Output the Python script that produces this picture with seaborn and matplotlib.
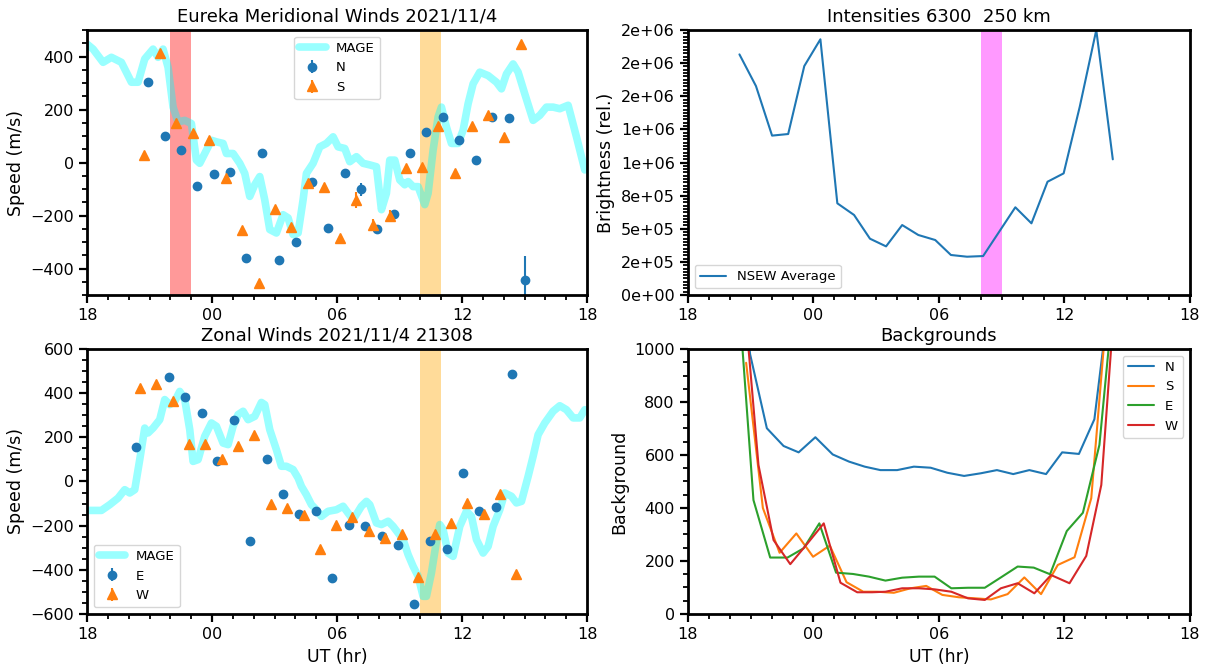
import seaborn as sns
import matplotlib.pyplot as plt
from matplotlib.ticker import MultipleLocator, AutoMinorLocator, FormatStrFormatter

# hours are counted from 00 UT on 2021/11/4 (18 UT the day before = -6)
HOUR_TICKS = [-6, 0, 6, 12, 18]
HOUR_LABELS = ['18', '00', '06', '12', '18']

# MAGE meridional wind (m/s)
mage_mer_t = [-6.0, -5.71, -5.23, -4.83, -4.35, -3.87, -3.55, -3.23, -2.83, -2.59, -2.35, -2.11,
              -1.87, -1.63, -1.31, -0.99, -0.75, -0.59, -0.35, -0.03, 0.21, 0.53, 0.69, 1.01,
              1.33, 1.57, 1.81, 2.05, 2.29, 2.53, 2.77, 3.09, 3.41, 3.65, 3.89, 4.13, 4.37,
              4.53, 4.85, 5.17, 5.49, 5.81, 6.05, 6.37, 6.61, 6.93, 7.25, 7.57, 7.89, 8.13,
              8.37, 8.53, 8.77, 9.01, 9.25, 9.41, 9.65, 9.89, 10.21, 10.37, 10.61, 10.85,
              11.01, 11.25, 11.49, 11.81, 12.05, 12.29, 12.53, 12.85, 13.25, 13.65, 13.89,
              14.13, 14.45, 14.69, 15.01, 15.41, 15.73, 16.05, 16.37, 16.69, 17.09, 17.49, 17.89]
mage_mer_v = [447, 428, 378, 397, 378, 303, 303, 391, 428, 397, 428, 359,
              209, 153, 159, 147, 9, -3, 34, 84, 78, 72, 34, 34,
              -3, -41, -128, -84, -53, -141, -253, -266, -197, -209, -272, -266, -141,
              -41, -3, 59, 72, 97, 59, 53, 3, 22, -3, -9, -16, -178,
              -116, 9, 9, -66, -84, -72, -91, -91, -159, -116, 47, 172,
              209, 134, 72, 72, 122, 222, 297, 341, 328, 303, 278,
              334, 372, 341, 259, 159, 178, 209, 209, 203, 216, 97, -28]

# FPI meridional winds
n_t = [-3.07, -2.27, -1.50, -0.72, 0.08, 0.85, 1.65, 2.42, 3.22, 4.02, 4.80, 5.57,
       6.37, 7.14, 7.94, 8.72, 9.49, 10.29, 11.09, 11.87, 12.66, 13.44, 14.24, 15.02]
n_v = [305, 99, 48, -89, -43, -36, -362, 34, -367, -301, -73, -248,
       -41, -101, -251, -194, 34, 117, 172, 84, 9, 172, 167, -444]
n_err = [8, 8, 8, 8, 8, 8, 10, 8, 10, 10, 8, 10, 8, 25, 10, 10, 8, 8, 8, 8, 8, 8, 8, 90]
s_t = [-3.26, -2.48, -1.71, -0.91, -0.14, 0.66, 1.44, 2.24, 3.01, 3.81, 4.59, 5.38,
       6.16, 6.93, 7.73, 8.53, 9.30, 10.08, 10.86, 11.66, 12.46, 13.23, 14.03, 14.82]
s_v = [28, 413, 149, 112, 84, -59, -253, -456, -174, -244, -78, -91,
       -286, -141, -234, -201, -22, -16, 137, -38, 137, 178, 97, 447]
s_err = [8, 8, 8, 8, 8, 8, 8, 8, 8, 8, 8, 8, 8, 30, 20, 20, 8, 8, 8, 8, 8, 8, 8, 8]

# MAGE zonal wind (m/s)
mage_zon_t = [-6.0, -5.31, -4.91, -4.51, -4.19, -3.95, -3.71, -3.47, -3.23, -3.07, -2.83, -2.51,
              -2.27, -2.03, -1.79, -1.55, -1.31, -1.07, -0.91, -0.67, -0.35, -0.03, 0.21, 0.53,
              0.77, 1.01, 1.25, 1.49, 1.73, 2.05, 2.37, 2.53, 2.77, 3.09, 3.33, 3.57, 3.89,
              4.13, 4.29, 4.53, 4.77, 5.01, 5.25, 5.57, 5.97, 6.29, 6.53, 6.77, 7.17, 7.41,
              7.57, 7.89, 8.13, 8.45, 8.69, 8.93, 9.17, 9.41, 9.65, 9.89, 10.13, 10.29, 10.53,
              10.77, 10.93, 11.09, 11.33, 11.57, 11.89, 12.21, 12.45, 12.69, 13.01, 13.25,
              13.49, 13.81, 14.05, 14.37, 14.61, 14.85, 15.17, 15.41, 15.65, 15.97, 16.37,
              16.69, 17.01, 17.33, 17.65, 17.89]
mage_zon_v = [-131, -131, -105, -75, -37, -52, -37, 99, 242, 220, 242, 280,
              371, 348, 363, 408, 371, 235, 91, 99, 205, 265, 250, 174,
              167, 250, 303, 318, 280, 295, 358, 348, 235, 144, 69, 69, 54,
              16, -22, -60, -105, -128, -158, -135, -128, -112, -143, -173, -112, -90,
              -105, -188, -195, -180, -203, -233, -263, -331, -384, -429, -520, -520, -414,
              -271, -195, -218, -324, -339, -203, -135, -158, -263, -324, -294,
              -203, -128, -52, -67, -97, -90, 23, 114, 212, 265, 318,
              343, 325, 288, 288, 325]

# FPI zonal winds
e_t = [-3.63, -2.08, -1.31, -0.50, 0.24, 1.04, 1.84, 2.64, 3.41, 4.18, 4.99, 5.78,
       6.58, 7.33, 8.16, 8.93, 9.71, 10.48, 11.28, 12.05, 12.83, 13.63, 14.42]
e_v = [155, 473, 383, 308, 91, 280, -268, 102, -57, -146, -135, -437,
       -195, -203, -248, -286, -553, -268, -304, 38, -132, -115, 488]
e_err = [8, 8, 8, 8, 8, 8, 8, 8, 8, 8, 8, 8, 15, 8, 15, 8, 8, 8, 8, 8, 8, 8, 8]
w_t = [-3.47, -2.67, -1.89, -1.10, -0.34, 0.46, 1.26, 2.03, 2.83, 3.60, 4.40, 5.17,
       5.97, 6.74, 7.52, 8.30, 9.10, 9.89, 10.69, 11.47, 12.26, 13.04, 13.84, 14.61]
w_v = [423, 441, 366, 170, 170, 102, 162, 209, -102, -120, -150, -306,
       -198, -161, -226, -256, -238, -432, -238, -189, -97, -147, -55, -417]
w_err = [8, 8, 8, 8, 8, 8, 8, 8, 8, 8, 8, 8, 8, 8, 20, 20, 8, 8, 8, 8, 8, 8, 8, 8]

# 6300 brightness, NSEW average
bright_t = [-3.54, -2.75, -1.98, -1.21, -0.44, 0.33, 1.14, 1.94, 2.70, 3.47, 4.24, 5.01,
            5.82, 6.57, 7.34, 8.11, 8.88, 9.65, 10.42, 11.19, 11.96, 12.73, 13.52, 14.31]
bright_v = [1.816e6, 1.577e6, 1.203e6, 1.215e6, 1.728e6, 1.930e6, 0.692e6, 0.604e6,
            0.425e6, 0.367e6, 0.528e6, 0.453e6, 0.415e6, 0.302e6, 0.289e6, 0.294e6,
            0.478e6, 0.662e6, 0.541e6, 0.855e6, 0.918e6, 1.421e6, 2.0e6, 1.024e6]

# backgrounds per look direction
bg_n_t = [-3.83, -3.03, -2.23, -1.43, -0.71, 0.09, 0.92, 1.70, 2.45, 3.20, 4.00, 4.80,
          5.60, 6.40, 7.20, 8.00, 8.77, 9.55, 10.32, 11.12, 11.89, 12.69, 13.43, 14.23]
bg_n_v = [1600, 980, 701, 634, 610, 667, 602, 575, 556, 543, 543, 556,
          552, 533, 521, 531, 543, 528, 543, 528, 610, 604, 735, 1250]
bg_s_t = [-3.22, -2.42, -1.62, -0.82, -0.02, 0.78, 1.58, 2.38, 3.04, 3.84, 4.64, 5.39,
          6.16, 6.96, 7.76, 8.48, 9.28, 10.08, 10.88, 11.68, 12.48, 13.28, 14.08]
bg_s_v = [948, 400, 231, 304, 216, 258, 120, 84, 84, 80, 97, 106,
          72, 63, 59, 55, 75, 138, 75, 185, 214, 437, 1200]
bg_e_t = [-3.67, -2.87, -2.07, -1.24, -0.47, 0.28, 1.08, 1.89, 2.65, 3.44, 4.24, 5.04,
          5.79, 6.59, 7.39, 8.19, 8.96, 9.76, 10.53, 11.31, 12.11, 12.88, 13.67, 14.47]
bg_e_v = [1300, 430, 213, 213, 248, 342, 156, 151, 141, 126, 137, 141,
          141, 97, 99, 99, 138, 179, 175, 150, 313, 382, 638, 1300]
bg_w_t = [-3.43, -2.63, -1.91, -1.11, -0.31, 0.49, 1.29, 2.09, 2.80, 3.44, 4.24, 5.04,
          5.79, 6.59, 7.39, 8.19, 8.96, 9.76, 10.56, 11.36, 12.24, 13.04, 13.76, 14.50]
bg_w_v = [1300, 562, 279, 188, 264, 342, 118, 82, 82, 84, 97, 97,
          93, 84, 59, 53, 97, 116, 78, 147, 116, 219, 487, 1300]

C = sns.color_palette('tab10')

sns.set_theme(style='ticks')
plt.rcParams['font.family'] = ['DejaVu Sans']
plt.rcParams.update({
    'axes.edgecolor': 'black', 'axes.linewidth': 2.0,
    'xtick.color': 'black', 'ytick.color': 'black',
    'xtick.major.size': 6, 'ytick.major.size': 6,
    'xtick.major.width': 1.6, 'ytick.major.width': 1.6,
    'xtick.minor.size': 3.5, 'ytick.minor.size': 3.5,
    'xtick.minor.width': 1.3, 'ytick.minor.width': 1.3,
    'xtick.labelsize': 11.5, 'ytick.labelsize': 11.5,
    'axes.labelsize': 12.5, 'axes.titlesize': 13,
    'legend.fontsize': 9.5, 'text.color': 'black', 'axes.labelcolor': 'black',
})

fig = plt.figure(figsize=(12.07, 6.70), dpi=100)
ax_mer = fig.add_axes([0.0721, 0.5597, 0.4143, 0.3955])
ax_int = fig.add_axes([0.5700, 0.5597, 0.4159, 0.3955])
ax_zon = fig.add_axes([0.0721, 0.0836, 0.4143, 0.3955])
ax_bg = fig.add_axes([0.5700, 0.0836, 0.4159, 0.3955])


def hour_axis(ax):
    ax.set_xlim(-6, 18)
    ax.set_xticks(HOUR_TICKS)
    ax.set_xticklabels(HOUR_LABELS)
    ax.xaxis.set_minor_locator(MultipleLocator(1))
    ax.yaxis.set_minor_locator(AutoMinorLocator())
    ax.set_xlabel('')


# Meridional
ax = ax_mer
ax.axvspan(-2, -1, color='red', alpha=0.4, lw=0)
ax.axvspan(10, 11, color='orange', alpha=0.4, lw=0)
sns.lineplot(x=mage_mer_t, y=mage_mer_v, color='cyan', alpha=0.4, lw=5.5, sort=False,
             estimator=None, label='MAGE', ax=ax)
ax.errorbar(n_t, n_v, yerr=n_err, fmt='o', color=C[0], ms=6, elinewidth=1.5, label='N')
ax.errorbar(s_t, s_v, yerr=s_err, fmt='^', color=C[1], ms=6.5, elinewidth=1.5, label='S')
hour_axis(ax)
ax.set_ylim(-500, 500)
ax.set_yticks([-400, -200, 0, 200, 400])
ax.set_ylabel('Speed (m/s)')
ax.set_title('Eureka Meridional Winds 2021/11/4')
ax.legend(loc='upper center')

# Intensities
ax = ax_int
ax.axvspan(8, 9, color='magenta', alpha=0.4, lw=0)
sns.lineplot(x=bright_t, y=bright_v, color=C[0], lw=1.5, sort=False, estimator=None,
             label='NSEW Average', ax=ax)
hour_axis(ax)
ax.set_ylim(0, 2e6)
ax.yaxis.set_major_locator(MultipleLocator(2.5e5))
ax.yaxis.set_minor_locator(MultipleLocator(2.5e4))
ax.yaxis.set_major_formatter(FormatStrFormatter('%.0e'))
ax.set_ylabel('Brightness (rel.)')
ax.set_title('Intensities 6300  250 km')
ax.legend(loc='lower left')

# Zonal
ax = ax_zon
ax.axvspan(10, 11, color='orange', alpha=0.4, lw=0)
sns.lineplot(x=mage_zon_t, y=mage_zon_v, color='cyan', alpha=0.4, lw=5.5, sort=False,
             estimator=None, label='MAGE', ax=ax)
ax.errorbar(e_t, e_v, yerr=e_err, fmt='o', color=C[0], ms=6, elinewidth=1.5, label='E')
ax.errorbar(w_t, w_v, yerr=w_err, fmt='^', color=C[1], ms=6.5, elinewidth=1.5, label='W')
hour_axis(ax)
ax.set_ylim(-600, 600)
ax.set_yticks([-600, -400, -200, 0, 200, 400, 600])
ax.set_ylabel('Speed (m/s)')
ax.set_xlabel('UT (hr)')
ax.set_title('Zonal Winds 2021/11/4 21308')
ax.legend(loc='lower left')

# Backgrounds
ax = ax_bg
for t, v, lab, col in [(bg_n_t, bg_n_v, 'N', C[0]), (bg_s_t, bg_s_v, 'S', C[1]),
                       (bg_e_t, bg_e_v, 'E', C[2]), (bg_w_t, bg_w_v, 'W', C[3])]:
    sns.lineplot(x=t, y=v, color=col, lw=1.5, sort=False, estimator=None, label=lab, ax=ax)
hour_axis(ax)
ax.set_ylim(0, 1000)
ax.set_yticks([0, 200, 400, 600, 800, 1000])
ax.set_ylabel('Background')
ax.set_xlabel('UT (hr)')
ax.set_title('Backgrounds')
ax.legend(loc='upper right')

fig.savefig('out.png', dpi=100)
